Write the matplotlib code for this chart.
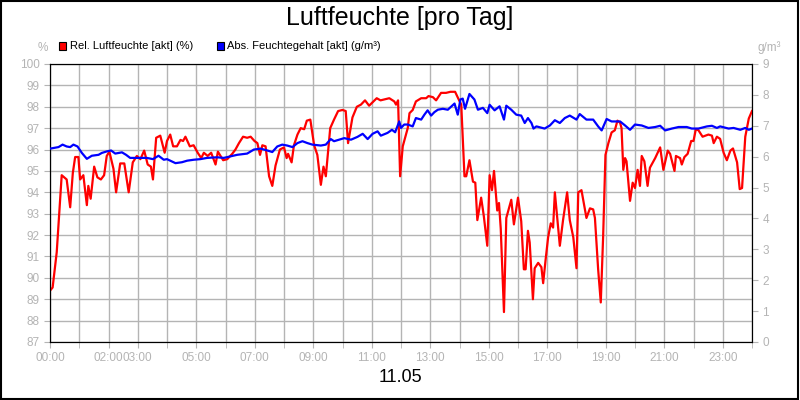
import matplotlib
matplotlib.use("Agg")
import matplotlib.pyplot as plt
from matplotlib.patches import Rectangle

plt.rcParams['font.family'] = ['Liberation Sans', 'DejaVu Sans']

rh_h = [0,0.09,0.23,0.4,0.57,0.69,0.78,0.86,0.97,1.03,1.14,1.26,1.31,1.39,1.51,1.62,1.74,1.85,1.94,2.03,2.17,2.26,2.4,2.54,2.69,2.83,2.97,3.09,3.22,3.34,3.45,3.52,3.63,3.77,3.92,4.0,4.11,4.21,4.34,4.46,4.55,4.63,4.78,4.91,5.05,5.17,5.26,5.39,5.51,5.66,5.74,5.92,6.06,6.23,6.34,6.46,6.6,6.74,6.86,6.99,7.09,7.18,7.26,7.37,7.49,7.6,7.71,7.86,8.0,8.09,8.14,8.26,8.34,8.46,8.57,8.69,8.78,8.9,9.03,9.14,9.26,9.35,9.43,9.58,9.71,9.85,10.0,10.11,10.19,10.34,10.49,10.63,10.77,10.91,11.17,11.3,11.6,11.77,11.83,11.9,11.97,
        12.06,12.23,12.29,12.4,12.51,12.69,12.86,12.94,13.09,13.2,13.37,13.54,13.69,13.85,13.97,14.06,14.17,14.23,14.34,14.46,14.54,14.61,14.74,14.83,14.95,15.03,15.11,15.18,15.29,15.35,15.41,15.52,15.6,15.77,15.86,16.0,16.11,16.2,16.26,16.34,16.4,16.51,16.57,16.69,16.8,16.86,16.94,17.03,17.12,17.2,17.26,17.43,17.54,17.68,17.77,17.89,18.0,18.06,18.17,18.34,18.46,18.57,18.63,18.74,18.83,18.91,18.99,19.09,19.2,19.31,19.4,19.49,19.54,19.6,19.66,19.71,19.83,19.92,20.0,20.09,20.17,20.23,20.32,20.43,20.51,20.69,20.86,20.97,21.12,21.2,21.35,21.4,21.54,21.6,21.69,21.8,21.92,22.0,22.08,22.17,22.31,22.51,22.63,22.69,22.8,22.91,23.03,23.14,23.26,23.35,23.49,23.58,23.66,23.77,23.89,24.0]
rh_v = [89.4,89.55,91.2,94.8,94.6,93.3,94.9,95.65,95.65,94.6,94.8,93.4,94.3,93.7,95.2,94.7,94.6,94.8,95.7,95.9,95.1,94.0,95.35,95.35,94.0,95.4,95.7,95.55,95.95,95.3,95.2,94.6,96.55,96.65,95.85,96.4,96.7,96.15,96.15,96.45,96.4,96.6,96.15,96.2,95.85,95.6,95.85,95.7,95.85,95.3,95.9,95.5,95.55,95.8,96.0,96.3,96.6,96.55,96.6,96.4,96.3,95.75,96.2,96.15,94.75,94.3,95.25,96.0,96.1,95.6,95.8,95.4,96.2,96.7,97.0,96.95,97.35,97.4,96.2,95.75,94.35,95.2,94.75,97.0,97.4,97.8,97.85,97.8,96.3,97.5,98.0,98.1,98.3,98.05,98.4,98.3,98.4,98.25,98.1,98.3,94.75,
        96.15,97.0,97.7,97.85,98.25,98.4,98.4,98.5,98.45,98.3,98.65,98.65,98.7,98.7,98.35,98.1,94.75,94.75,95.5,94.5,94.45,92.7,93.75,92.9,91.5,94.8,94.1,95.0,93.15,93.5,92.3,88.4,92.8,93.65,92.5,93.75,92.65,90.4,90.4,92.2,91.65,89.0,90.45,90.7,90.5,89.75,90.8,91.9,92.55,92.35,94.0,91.5,92.7,94.0,92.7,91.9,90.45,94.0,94.1,92.8,93.25,93.2,92.8,90.4,88.85,91.9,95.75,96.3,96.8,96.9,97.35,97.25,97.0,95.05,95.6,95.45,93.6,94.45,94.2,95.05,94.3,95.7,95.45,94.3,95.15,95.6,96.1,95.05,95.95,95.8,95.0,95.7,95.6,95.3,95.65,95.8,96.4,96.4,96.95,96.9,96.6,96.7,96.65,96.3,96.6,96.5,95.85,95.5,95.95,96.05,95.4,94.15,94.2,96.6,97.45,97.8]

ah_h = [0,0.29,0.43,0.57,0.69,0.8,0.94,1.09,1.26,1.43,1.66,1.77,1.94,2.09,2.23,2.46,2.6,2.74,3.09,3.31,3.52,3.71,3.89,4.0,4.29,4.51,4.69,4.91,5.14,5.37,5.71,5.94,6.17,6.4,6.74,6.97,7.2,7.43,7.6,7.77,7.94,8.11,8.29,8.46,8.63,8.8,8.97,9.26,9.43,9.6,9.71,10.06,10.29,10.51,10.69,10.86,11.03,11.2,11.31,11.54,11.69,11.8,11.94,
        12.0,12.11,12.23,12.4,12.51,12.69,12.8,12.91,13.03,13.14,13.26,13.43,13.6,13.83,13.94,14.03,14.11,14.19,14.34,14.51,14.63,14.8,14.95,15.03,15.2,15.37,15.52,15.6,15.77,15.94,16.11,16.23,16.34,16.46,16.53,16.63,16.91,17.09,17.26,17.43,17.6,17.77,18.0,18.11,18.34,18.57,18.74,18.86,19.03,19.2,19.49,19.66,19.83,20.0,20.23,20.46,20.69,20.86,21.03,21.26,21.49,21.77,21.94,22.17,22.46,22.63,22.8,22.91,23.2,23.37,23.6,23.77,23.89,24.0]
ah_v = [6.26,6.31,6.39,6.33,6.31,6.39,6.33,6.12,5.93,6.03,6.06,6.12,6.17,6.2,6.1,6.14,6.06,5.96,5.96,5.96,5.92,6.03,5.9,5.92,5.79,5.82,5.87,5.9,5.92,5.96,5.98,5.96,6.01,6.06,6.1,6.23,6.26,6.2,6.15,6.33,6.39,6.36,6.31,6.44,6.5,6.44,6.39,6.36,6.39,6.57,6.5,6.6,6.55,6.64,6.74,6.57,6.74,6.82,6.68,6.77,6.87,6.79,7.14,
        6.93,7.04,7.04,6.98,7.25,7.2,7.36,7.5,7.33,7.44,7.52,7.55,7.52,7.72,7.36,7.85,7.88,7.55,8.03,7.85,7.52,7.58,7.41,7.68,7.5,7.63,7.2,7.65,7.52,7.36,7.33,7.09,7.25,7.09,6.91,6.98,6.91,7.01,7.18,7.09,7.25,7.33,7.2,7.38,7.2,7.2,6.98,6.85,7.22,7.14,7.14,7.01,6.87,7.04,7.01,6.93,6.96,7.0,6.85,6.91,6.96,6.96,6.91,6.91,6.98,7.0,6.93,6.98,6.91,6.93,6.87,6.93,6.87,6.91]

tick_hours = [0,2,3,5,7,9,11,13,15,17,19,21,23]
tick_labels = ["%02d:00" % h for h in tick_hours]
gray = "#b4b4b4"

fig = plt.figure(figsize=(8, 4), dpi=100)
fig.patches.append(Rectangle((0.001, 0.002), 0.997, 0.996, transform=fig.transFigure,
                             fill=False, edgecolor="black", linewidth=1.5))
ax = fig.add_axes([0.0625, 0.145, 0.8775, 0.695])
ax2 = ax.twinx()

ax.plot(rh_h, rh_v, color="#ff0000", lw=1.6, zorder=3)
ax2.plot(ah_h, ah_v, color="#0000ff", lw=1.6, zorder=3)

ax.set_xlim(0, 24)
ax.set_ylim(87, 100)
ax2.set_ylim(0, 9)
ax.set_yticks(range(87, 101))
ax2.set_yticks(range(0, 10))
ax.set_xticks(range(0, 25), minor=True)
ax.set_xticks(tick_hours)
ax.set_xticklabels(tick_labels)
ax.grid(True, which="both", axis="x", color=gray, lw=1)
ax.grid(True, axis="y", color=gray, lw=1)
ax.set_axisbelow(True)
for a in (ax, ax2):
    a.tick_params(colors=gray, labelsize=8.5, length=4, which="both", labelcolor=gray)
    for s in a.spines.values():
        s.set_color("black")
ax.tick_params(axis="x", which="minor", length=4, color=gray)

fig.text(0.5, 0.955, "Luftfeuchte [pro Tag]", ha="center", va="center", fontsize=18)
fig.text(0.5, 0.055, "11.05", ha="center", va="center", fontsize=13)
fig.text(0.053, 0.88, "%", ha="center", va="center", fontsize=8.5, color=gray)
fig.text(0.962, 0.88, "g/m³", ha="center", va="center", fontsize=8.5, color=gray)

fig.patches.append(Rectangle((0.074, 0.876), 0.009, 0.018, transform=fig.transFigure,
                             facecolor="#ff0000", edgecolor="black", lw=0.8))
fig.text(0.087, 0.886, "Rel. Luftfeuchte [akt] (%)", va="center", fontsize=8)
fig.patches.append(Rectangle((0.271, 0.876), 0.009, 0.018, transform=fig.transFigure,
                             facecolor="#0000ff", edgecolor="black", lw=0.8))
fig.text(0.284, 0.886, "Abs. Feuchtegehalt [akt] (g/m³)", va="center", fontsize=8)

fig.savefig("out.png", dpi=100)
